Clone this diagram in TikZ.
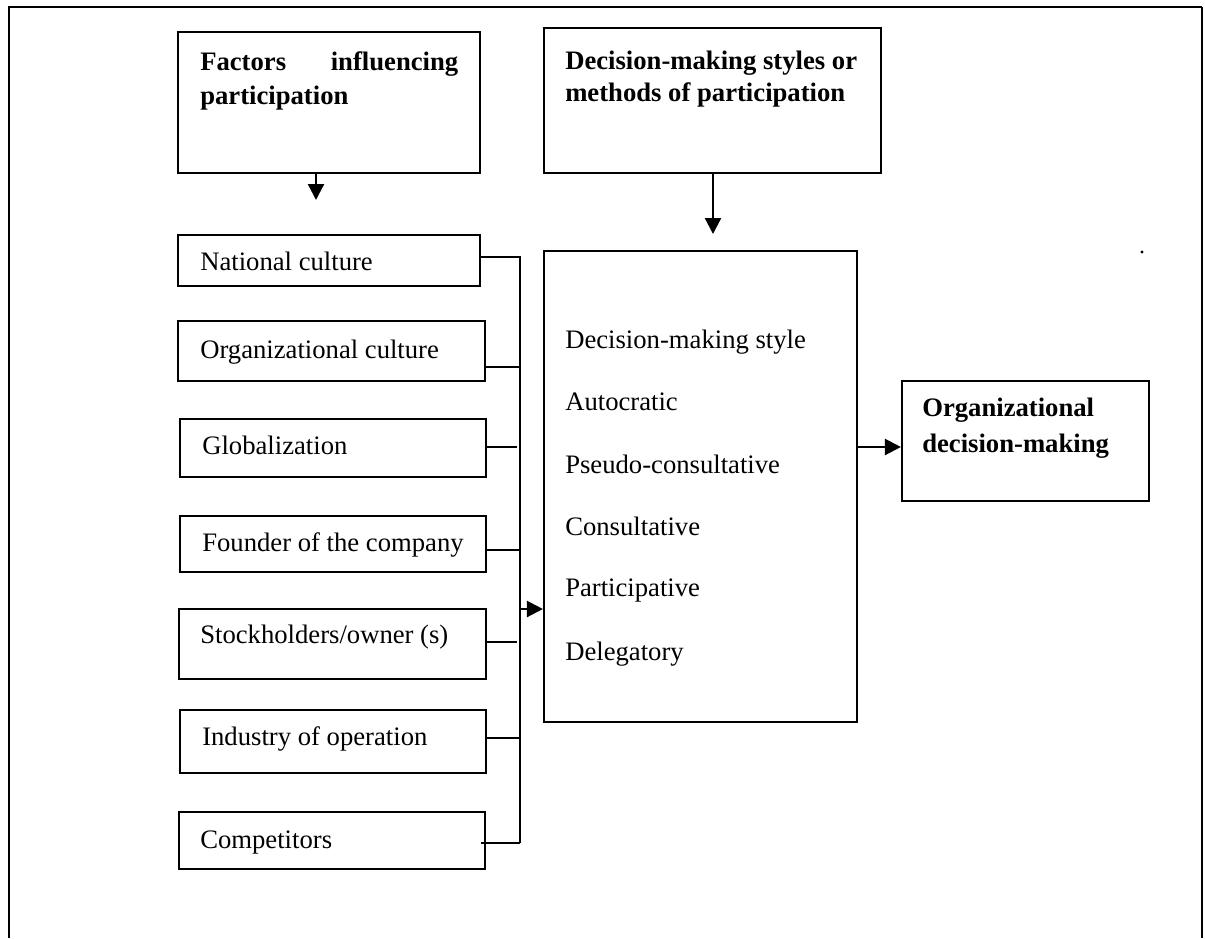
\documentclass[tikz,border=0pt]{standalone}
\usepackage{fontspec}
\setmainfont{Liberation Serif}
\usetikzlibrary{arrows.meta,calc}
\begin{document}
\begin{tikzpicture}[x=0.75pt,y=-0.75pt,
  box/.style={draw, line width=1.6pt, rectangle, inner sep=0pt},
  txt/.style={anchor=base west, inner sep=0pt, font=\fontsize{20}{23}\selectfont},
  bold/.style={anchor=base west, inner sep=0pt, font=\fontsize{20}{23}\selectfont\bfseries},
  conn/.style={line width=1.5pt},
  arr/.style={line width=1.7pt, -{Triangle[length=12pt,width=12pt]}},
  frame/.style={line width=2pt}]
\useasboundingbox (0,0) rectangle (1205,938);

% outer frame (open at the bottom)
\draw[frame] (9,938) -- (9,7) -- (1202,7);
\draw[line width=1.4pt] (1202,7) -- (1202,938);

% header boxes
\node[box, minimum width=302*0.75pt, minimum height=141*0.75pt] (F) at (329,102.5) {};
\node[bold] (Ft) at (200,71) {\parbox[t]{193.5pt}{\baselineskip=25.5pt Factors\hfill influencing\\participation}};
\node[box, minimum width=337*0.75pt, minimum height=145*0.75pt] (D) at (712.5,100.5) {};
\node[bold] (Dt) at (565,70) {\parbox[t]{240pt}{\raggedright\baselineskip=24pt Decision-making styles or\\methods of participation}};

% styles box
\node[box, minimum width=313*0.75pt, minimum height=471*0.75pt] (S) at (700.5,486.5) {};
\node[txt] (s1) at (565,348) {Decision-making style};
\node[txt] (s2) at (565,410) {Autocratic};
\node[txt] (s3) at (565,473) {Pseudo-consultative};
\node[txt] (s4) at (565,535) {Consultative};
\node[txt] (s5) at (565,596) {Participative};
\node[txt] (s6) at (565,660) {Delegatory};

% outcome box
\node[box, minimum width=247*0.75pt, minimum height=120*0.75pt] (O) at (1025.5,441) {};
\node[bold] (Ot) at (922,416) {\parbox[t]{200pt}{\raggedright\baselineskip=27pt Organizational\\decision-making}};

% factor boxes
\node[box, minimum width=302*0.75pt, minimum height=51*0.75pt] (L1) at (329,260.5) {};
\node[txt] (L1t) at (200,270) {National culture};
\node[box, minimum width=307*0.75pt, minimum height=60*0.75pt] (L2) at (331.5,351) {};
\node[txt] (L2t) at (200,358) {Organizational culture};
\node[box, minimum width=306*0.75pt, minimum height=58*0.75pt] (L3) at (333,448) {};
\node[txt] (L3t) at (202,454) {Globalization};
\node[box, minimum width=306*0.75pt, minimum height=56*0.75pt] (L4) at (333,544) {};
\node[txt] (L4t) at (202,551) {Founder of the company};
\node[box, minimum width=307*0.75pt, minimum height=70*0.75pt] (L5) at (332.5,644) {};
\node[txt] (L5t) at (200,643) {Stockholders/owner (s)};
\node[box, minimum width=306*0.75pt, minimum height=63*0.75pt] (L6) at (333,741.5) {};
\node[txt] (L6t) at (202,745) {Industry of operation};
\node[box, minimum width=306*0.75pt, minimum height=57*0.75pt] (L7) at (332,840.5) {};
\node[txt] (L7t) at (200,848) {Competitors};

% bus junction points
\coordinate (j1) at (520,257);
\coordinate (j2) at (520,367);
\coordinate (j3) at (517,447);
\coordinate (j4) at (520,550);
\coordinate (j5) at (517,642);
\coordinate (j6) at (520,738);
\coordinate (j7) at (520,843);
\coordinate (jm) at (520,609);

\draw[conn] (L1.east |- j1) -- (j1) -- (j7);
\draw[conn] (L2.east |- j2) -- (j2);
\draw[conn] (L3.east |- j3) -- (j3);
\draw[conn] (L4.east |- j4) -- (j4);
\draw[conn] (L5.east |- j5) -- (j5);
\draw[conn] ([xshift=-1.5pt]L6.east |- j6) -- (j6);
\draw[conn] ([xshift=-3.5pt]L7.east |- j7) -- (j7);
\draw[arr] (jm) -- (S.west |- jm);

% arrows from headers
\coordinate (fa) at (316,200);
\coordinate (da) at (713,234);
\draw[arr] (F.south -| fa) -- (fa);
\draw[arr] (D.south -| da) -- (da);

% styles to outcome
\coordinate (so) at (857,447);
\draw[arr] (S.east |- so) -- (O.west |- so);

% stray dot
\fill (1142,252) circle (1.2pt);
\end{tikzpicture}
\end{document}
